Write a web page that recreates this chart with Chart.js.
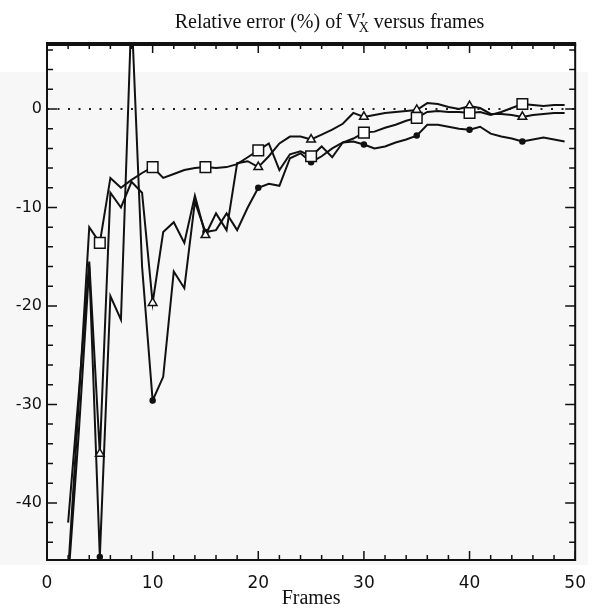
<!DOCTYPE html>
<html>
<head>
<meta charset="utf-8">
<script src="https://cdn.jsdelivr.net/npm/chart.js@4.4.0/dist/chart.umd.min.js"></script>
<style>
    html, body { margin: 0; padding: 0; background: #fff; }
    #wrap { width: 599px; height: 611px; }
</style>
</head>
<body>
<div id="wrap"><canvas id="errChart" width="599" height="611"></canvas></div>
<script>
// Frames (x) and relative error (%) for the three runs
const frames = [2, 3, 4, 5, 6, 7, 8, 9, 10, 11, 12, 13, 14, 15, 16, 17, 18, 19, 20, 21, 22, 23, 24, 25,
    26, 27, 28, 29, 30, 31, 32, 33, 34, 35, 36, 37, 38, 39, 40, 41, 42, 43, 44, 45, 46, 47, 48, 49];

const squareErr = [-47, -30, -12, -13.6, -7, -8, -7.2, -6.5, -5.9, -7, -6.6, -6.2, -6, -5.9, -6, -5.9, -5.6, -4.9, -4.2, -3.5,
    -6.2, -4.6, -4.3, -4.8, -3.8, -4.9, -3.4, -3, -2.4, -2.3, -1.9, -1.6, -1.2, -0.9, -0.3, -0.2, -0.3, -0.3, -0.4, -0.3,
    -0.6, -0.3, 0.1, 0.5, 0.4, 0.3, 0.4, 0.4];

const triangleErr = [-42, -29, -15.5, -35, -8.5, -10, -7.4, -8.5, -19.7, -12.5, -11.5, -13.6, -8.8, -12.8, -10.6, -12.3, -5.5, -5.3, -5.9, -4.8,
    -3.5, -2.8, -2.8, -3.1, -2.6, -2.1, -1.5, -0.4, -0.8, -0.6, -0.4, -0.3, -0.2, -0.1, 0.6, 0.5, 0.2, 0, 0.3, 0.1,
    -0.5, -0.5, -0.6, -0.8, -0.6, -0.5, -0.4, -0.4];

const circleErr = [-48, -33, -16, -45.5, -19, -21.4, 10, -16, -29.6, -27.2, -16.5, -18.2, -9.4, -12.5, -12.3, -10.6, -12.3, -10, -8, -7.6,
    -7.8, -5, -4.5, -5.4, -4.8, -4, -3.4, -3.3, -3.6, -4, -3.8, -3.4, -3.1, -2.7, -1.6, -1.6, -1.8, -2, -2.1, -1.8,
    -2.5, -2.8, -3, -3.3, -3.1, -2.9, -3.1, -3.3];

const xTicks = [0, 10, 20, 30, 40, 50];
const yTicks = [-40, -30, -20, -10, 0];

function toPoints(values) {
    return frames.map((f, i) => ({ x: f, y: values[i] }));
}

// markers only every 5 frames
function markerRadius(size) {
    return function(ctx) {
        const f = frames[ctx.dataIndex];
        return f % 5 === 0 ? size : 0;
    };
}

// scan-like background, title with subscript, frame with inward ticks
const paperPlugin = {
    id: 'paper',
    beforeDraw(chart) {
        const ctx = chart.ctx;
        ctx.save();
        ctx.fillStyle = '#ffffff';
        ctx.fillRect(0, 0, chart.width, chart.height);
        ctx.fillStyle = '#f7f7f7';
        ctx.fillRect(0, 72, 588, chart.chartArea.bottom + 5 - 72);
        ctx.restore();
    },
    afterDraw(chart) {
        const ctx = chart.ctx;
        const area = chart.chartArea;
        const xs = chart.scales.x;
        const ys = chart.scales.y;
        ctx.save();
        ctx.strokeStyle = '#111';
        ctx.lineWidth = 2;
        ctx.beginPath();
        ctx.moveTo(area.left, area.top);
        ctx.lineTo(area.left, area.bottom);
        ctx.lineTo(area.right, area.bottom);
        ctx.lineTo(area.right, area.top);
        ctx.stroke();
        ctx.lineWidth = 4;
        ctx.beginPath();
        ctx.moveTo(area.left - 1, area.top);
        ctx.lineTo(area.right + 1, area.top);
        ctx.stroke();

        ctx.lineWidth = 1.5;
        ctx.beginPath();
        for (let v = 0; v <= 50; v += 2) {
            const px = xs.getPixelForValue(v);
            const len = v % 10 === 0 ? 9 : 5;
            ctx.moveTo(px, area.bottom);
            ctx.lineTo(px, area.bottom - len);
            ctx.moveTo(px, area.top);
            ctx.lineTo(px, area.top + len);
        }
        for (let v = -44; v <= 6; v += 2) {
            const py = ys.getPixelForValue(v);
            const len = v % 10 === 0 ? 10 : 6;
            ctx.moveTo(area.left, py);
            ctx.lineTo(area.left + len, py);
            ctx.moveTo(area.right, py);
            ctx.lineTo(area.right - len, py);
        }
        ctx.stroke();

        // title: Relative error (%) of V'x versus frames
        const big = '20px "Liberation Serif"';
        const small = '14px "Liberation Serif"';
        const parts = [
            { t: 'Relative error (%) of V', f: big, dy: 0 },
            { t: '\u2032', f: big, dy: -1 },
            { t: 'X', f: small, dy: 4 },
            { t: ' versus frames', f: big, dy: 0 }
        ];
        let total = 0;
        parts.forEach(p => { ctx.font = p.f; p.w = ctx.measureText(p.t).width; total += p.w; });
        let x = 327 - total / 2 + 6;
        ctx.fillStyle = '#111';
        ctx.textBaseline = 'alphabetic';
        parts.forEach((p, i) => {
            ctx.font = p.f;
            let px = x;
            if (i === 2) px = x - parts[1].w;
            ctx.fillText(p.t, px, 28 + p.dy);
            x += (i === 1) ? parts[1].w * 0.4 : p.w;
            if (i === 2) x = px + p.w;
        });
        ctx.restore();
    }
};

const lineStyle = {
    borderColor: '#111',
    borderWidth: 2,
    tension: 0,
    fill: false,
    pointBorderColor: '#111',
    pointBorderWidth: 1.5,
    pointHoverRadius: 0
};

const chart = new Chart(document.getElementById('errChart'), {
    type: 'line',
    data: {
        datasets: [
            Object.assign({}, lineStyle, {
                label: 'squares',
                data: toPoints(squareErr),
                pointStyle: 'rect',
                pointRadius: markerRadius(7.5),
                pointBackgroundColor: '#fff',
                order: 1
            }),
            Object.assign({}, lineStyle, {
                label: 'triangles',
                data: toPoints(triangleErr),
                pointStyle: 'triangle',
                pointRadius: markerRadius(5),
                pointBackgroundColor: '#fff',
                order: 2
            }),
            Object.assign({}, lineStyle, {
                label: 'circles',
                data: toPoints(circleErr),
                pointStyle: 'circle',
                pointRadius: markerRadius(2.5),
                pointBackgroundColor: '#111',
                order: 3
            }),
            {
                label: 'zero',
                data: [{ x: 0, y: 0 }, { x: 50, y: 0 }],
                borderColor: '#222',
                borderWidth: 2,
                borderDash: [2, 8.5],
                pointRadius: 0,
                order: 10
            }
        ]
    },
    options: {
        responsive: false,
        devicePixelRatio: 1,
        animation: false,
        layout: { padding: { top: 44, right: 23, left: 0, bottom: 0 } },
        plugins: {
            legend: { display: false },
            tooltip: { enabled: false },
            title: { display: false }
        },
        scales: {
            x: {
                type: 'linear',
                min: 0,
                max: 50,
                afterFit: scale => { scale.height = 51; },
                afterBuildTicks: scale => { scale.ticks = xTicks.map(v => ({ value: v })); },
                grid: { display: false, drawTicks: false },
                border: { display: false },
                ticks: {
                    padding: 13,
                    color: '#111',
                    font: { family: '"DejaVu Sans"', size: 17 },
                    maxRotation: 0
                },
                title: {
                    display: true,
                    text: 'Frames',
                    color: '#111',
                    font: { family: '"Liberation Serif"', size: 20 },
                    padding: { top: 0, bottom: 0 }
                }
            },
            y: {
                type: 'linear',
                min: -45.8,
                max: 6.6,
                afterFit: scale => { scale.width = 47; },
                afterBuildTicks: scale => { scale.ticks = yTicks.map(v => ({ value: v })); },
                grid: { display: false, drawTicks: false },
                border: { display: false },
                ticks: {
                    padding: 5,
                    color: '#111',
                    font: { family: '"DejaVu Sans"', size: 16 }
                }
            }
        }
    },
    plugins: [paperPlugin]
});
</script>
</body>
</html>
